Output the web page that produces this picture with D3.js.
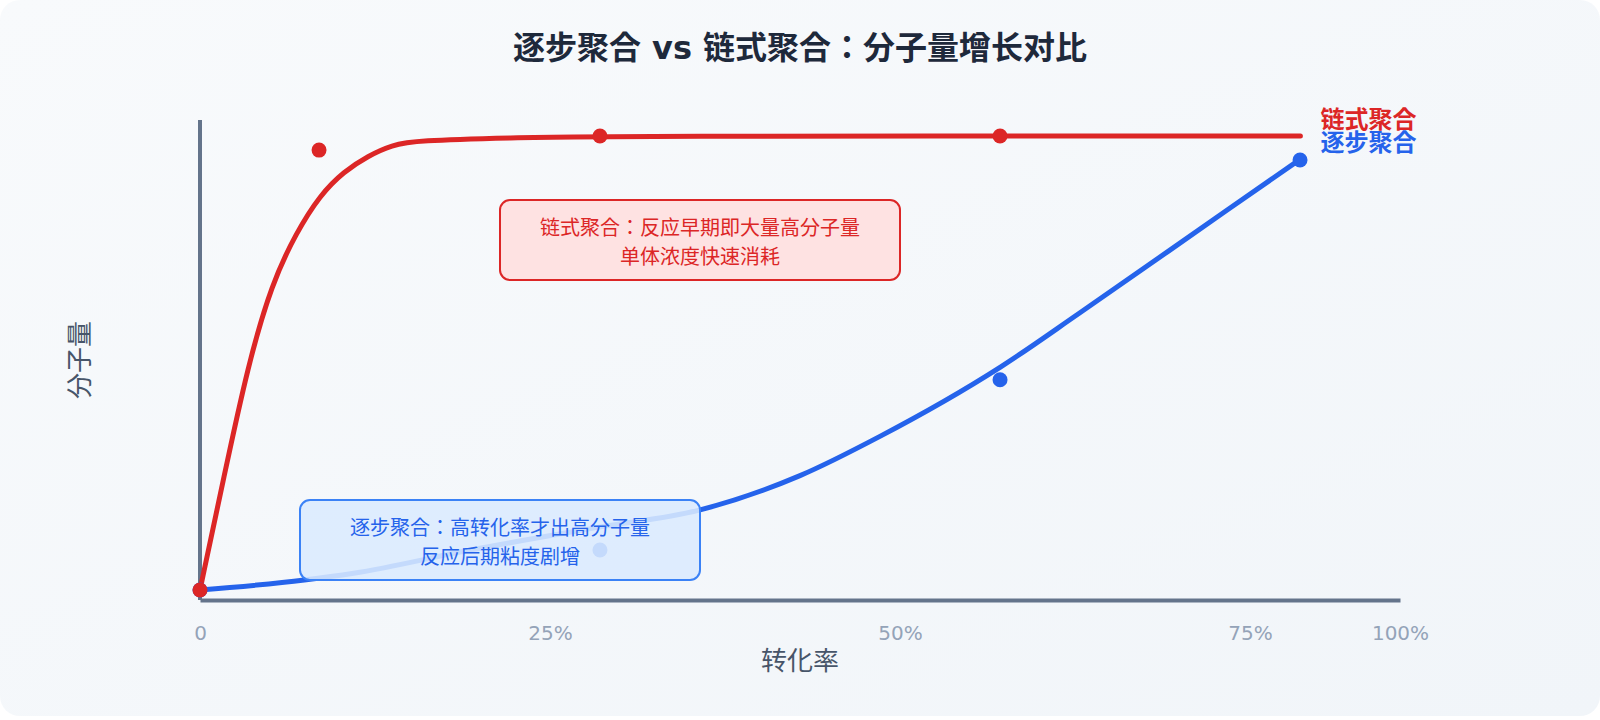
<!DOCTYPE html>
<html>
<head>
<meta charset="utf-8">
<script src="https://cdn.jsdelivr.net/npm/d3@7/dist/d3.min.js"></script>
<style>
  html, body { margin: 0; padding: 0; background: #ffffff; }
  svg { display: block; font-family: "DejaVu Sans", "Noto Sans CJK JP", sans-serif; }
</style>
</head>
<body>
<svg id="chart" width="1600" height="720"></svg>
<script>
// ---------- data ----------
const titleText = "逐步聚合 vs 链式聚合：分子量增长对比";
const xAxisTitle = "转化率";
const yAxisTitle = "分子量";
const xTickValues = [0, 0.2917, 0.5833, 0.875, 1];
const xTickLabels = ["0", "25%", "50%", "75%", "100%"];

const seriesNames = ["逐步聚合", "链式聚合"];
// curves (conversion, relative molecular weight)
const stepCurveX = [0, 0.087, 0.128, 0.225, 0.334, 0.416, 0.5, 0.567, 0.667, 0.733, 0.856, 0.917];
const stepCurveY = [0, 2.2, 3.7, 8.8, 13.9, 17.6, 25.2, 33.9, 49.1, 61.0, 83.7, 94.9];
const chainCurveX = [0, 0.02, 0.04, 0.06, 0.08, 0.10, 0.12, 0.14, 0.16, 0.18, 0.26, 0.333, 0.917];
const chainCurveY = [0, 25, 49.6, 67.6, 78.6, 87, 92.2, 95.6, 98, 99, 99.6, 100, 100];
// marker points
const stepPointX = [0, 0.3333, 0.6667, 0.9167];
const stepPointY = [0, 8.8, 46.3, 94.7];
const chainPointX = [0, 0.0992, 0.3333, 0.6667];
const chainPointY = [0, 96.9, 100, 100];

const chainNote = ["链式聚合：反应早期即大量高分子量", "单体浓度快速消耗"];
const stepNote = ["逐步聚合：高转化率才出高分子量", "反应后期粘度剧增"];

// ---------- layout ----------
const W = 1600, H = 720;
const plot = { left: 200, right: 1400, top: 120, bottom: 600 };
const colors = { step: "#2563eb", chain: "#dc2626", axis: "#64748b", tick: "#94a3b8", label: "#475569", title: "#1e293b" };
const FONT = "\"DejaVu Sans\", \"Noto Sans CJK JP\", sans-serif";

const svg = d3.select("#chart");
const defs = svg.append("defs");
const grad = defs.append("linearGradient").attr("id", "bg").attr("x1", "0").attr("y1", "0").attr("x2", "1").attr("y2", "1");
grad.append("stop").attr("offset", "0%").attr("stop-color", "#f8fafc");
grad.append("stop").attr("offset", "100%").attr("stop-color", "#f1f5f9");

svg.append("rect").attr("x", 0).attr("y", 0).attr("width", W).attr("height", 716)
  .attr("rx", 20).attr("fill", "url(#bg)");

const x = d3.scaleLinear().domain([0, 1]).range([plot.left, plot.right]);
const y = d3.scaleLinear().domain([0, 100]).range([590, 136]);

// title
svg.append("text").attr("x", W / 2).attr("y", 59).attr("text-anchor", "middle")
  .attr("font-size", 32).attr("font-weight", 700).attr("fill", colors.title).text(titleText);

// axes
svg.append("line").attr("x1", plot.left).attr("x2", plot.left).attr("y1", plot.top).attr("y2", plot.bottom)
  .attr("stroke", colors.axis).attr("stroke-width", 4);

const xAxis = d3.axisBottom(x).tickValues(xTickValues)
  .tickFormat((d, i) => xTickLabels[i]).tickSizeInner(0).tickSizeOuter(0).tickPadding(26);
const gx = svg.append("g").attr("transform", `translate(0,${plot.bottom})`).call(xAxis);
gx.select(".domain").attr("stroke", colors.axis).attr("stroke-width", 4);
gx.selectAll("text").attr("font-size", 20).attr("fill", colors.tick).attr("font-family", FONT);

svg.append("text").attr("x", (plot.left + plot.right) / 2).attr("y", 670).attr("text-anchor", "middle")
  .attr("font-size", 26).attr("fill", colors.label).text(xAxisTitle);
svg.append("text").attr("transform", "translate(89,360) rotate(-90)").attr("text-anchor", "middle")
  .attr("font-size", 26).attr("fill", colors.label).text(yAxisTitle);

// lines
const line = d3.line().x(d => x(d[0])).y(d => y(d[1]));
const chainCurve = chainCurveX.map((v, i) => [v, chainCurveY[i]]);
const stepCurve = stepCurveX.map((v, i) => [v, stepCurveY[i]]);

svg.append("path").datum(chainCurve).attr("d", line.curve(d3.curveBasis)).attr("fill", "none")
  .attr("stroke", colors.chain).attr("stroke-width", 5).attr("stroke-linecap", "round").attr("stroke-linejoin", "round");
svg.append("path").datum(stepCurve).attr("d", line.curve(d3.curveMonotoneX)).attr("fill", "none")
  .attr("stroke", colors.step).attr("stroke-width", 5).attr("stroke-linecap", "round").attr("stroke-linejoin", "round");

// points
const stepPts = stepPointX.map((v, i) => [v, stepPointY[i]]);
const chainPts = chainPointX.map((v, i) => [v, chainPointY[i]]);
svg.append("g").selectAll("circle").data(stepPts).join("circle")
  .attr("cx", d => x(d[0])).attr("cy", d => y(d[1])).attr("r", 7.5).attr("fill", colors.step);
svg.append("g").selectAll("circle").data(chainPts).join("circle")
  .attr("cx", d => x(d[0])).attr("cy", d => y(d[1])).attr("r", 7.5).attr("fill", colors.chain);

// end labels
const stepEnd = stepCurve[stepCurve.length - 1];
const chainEnd = chainCurve[chainCurve.length - 1];
svg.append("text").attr("x", x(stepEnd[0]) + 20).attr("y", y(stepEnd[1]) - 8)
  .attr("font-size", 24).attr("font-weight", 700).attr("fill", colors.step).text(seriesNames[0]);
svg.append("text").attr("x", x(chainEnd[0]) + 20).attr("y", y(chainEnd[1]) - 8)
  .attr("font-size", 24).attr("font-weight", 700).attr("fill", colors.chain).text(seriesNames[1]);

// annotation boxes
function note(cx, cy, lines, fill, fillOpacity, stroke, textColor) {
  const g = svg.append("g");
  g.append("rect").attr("x", cx - 200).attr("y", cy - 40).attr("width", 400).attr("height", 80)
    .attr("rx", 10).attr("fill", fill).attr("fill-opacity", fillOpacity)
    .attr("stroke", stroke).attr("stroke-width", 2);
  lines.forEach((t, i) => {
    g.append("text").attr("x", cx).attr("y", cy - 5 + i * 29).attr("text-anchor", "middle")
      .attr("font-size", 20).attr("fill", textColor).text(t);
  });
}
note(700, 240, chainNote, "#fee2e2", 1, "#dc2626", "#dc2626");
note(500, 540, stepNote, "#dbeafe", 0.88, "#3b82f6", "#2563eb");
</script>
</body>
</html>
